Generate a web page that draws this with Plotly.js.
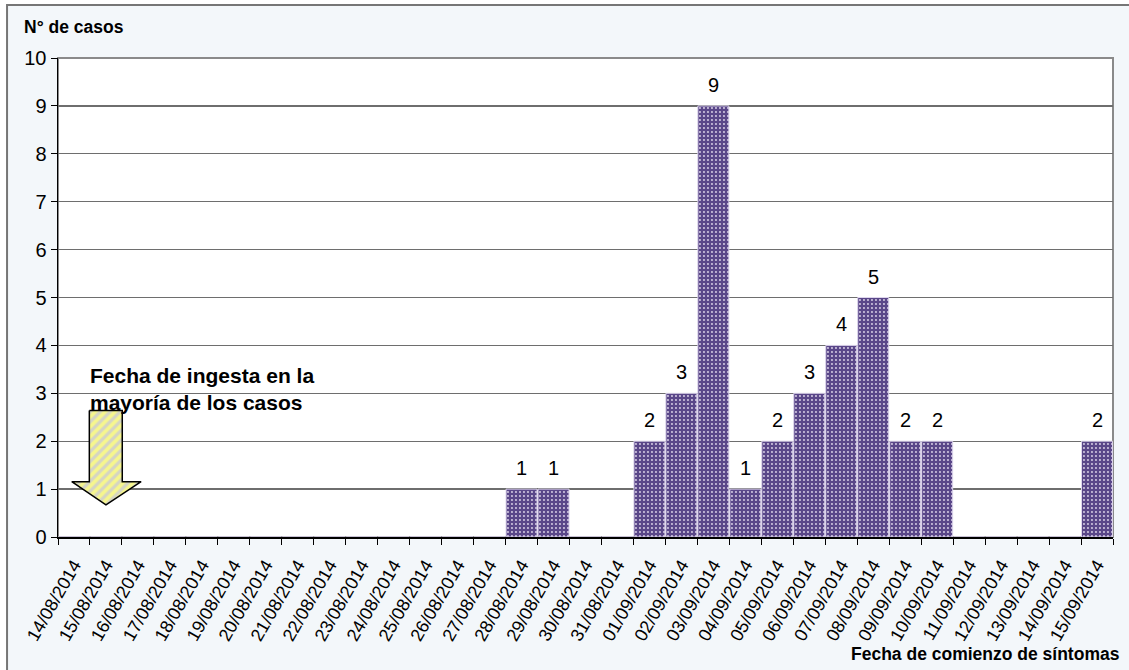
<!DOCTYPE html>
<html>
<head>
<meta charset="utf-8">
<script src="https://cdn.plot.ly/plotly-3.0.1.min.js"></script>
<style>
  html, body { margin: 0; padding: 0; background: #ffffff; }
  #chart { width: 1129px; height: 670px; }
</style>
</head>
<body>
<div id="chart"></div>
<script>
// Fechas de comienzo de síntomas (eje de categorías)
const fechas = [
  '14/08/2014','15/08/2014','16/08/2014','17/08/2014','18/08/2014','19/08/2014',
  '20/08/2014','21/08/2014','22/08/2014','23/08/2014','24/08/2014','25/08/2014',
  '26/08/2014','27/08/2014','28/08/2014','29/08/2014','30/08/2014','31/08/2014',
  '01/09/2014','02/09/2014','03/09/2014','04/09/2014','05/09/2014','06/09/2014',
  '07/09/2014','08/09/2014','09/09/2014','10/09/2014','11/09/2014','12/09/2014',
  '13/09/2014','14/09/2014','15/09/2014'
];

// Número de casos por fecha
const casos = [
  0,0,0,0,0,0,
  0,0,0,0,0,0,
  0,0,1,1,0,0,
  2,3,9,1,2,3,
  4,5,2,2,0,0,
  0,0,2
];

const yTicks = [0,1,2,3,4,5,6,7,8,9,10];

// Flecha que señala la fecha de ingesta (en unidades de categoría / casos)
const flechaX = [0.48, 1.51, 1.51, 2.10, 1.00, -0.07, 0.48, 0.48];
const flechaY = [2.64, 2.64, 1.155, 1.155, 0.67, 1.155, 1.155, 2.64];

const FONT = 'Liberation Sans, Arial, sans-serif';

const barras = {
  type: 'bar',
  x: fechas,
  y: casos,
  marker: {
    color: '#5a4789',
    line: { color: '#ddd5ec', width: 1 },
    pattern: { shape: '.', fgcolor: '#ddd5ea', bgcolor: '#5a4789', size: 4, solidity: 0.18, fillmode: 'replace' }
  },
  hoverinfo: 'x+y',
  showlegend: false
};

const flecha = {
  type: 'scatter',
  mode: 'lines',
  x: flechaX,
  y: flechaY,
  xaxis: 'x2',
  yaxis: 'y',
  fill: 'toself',
  fillcolor: '#f6f68e',
  fillpattern: { shape: '/', bgcolor: '#f6f68e', fgcolor: '#d4d4c4', size: 7, solidity: 0.45 },
  line: { color: '#000000', width: 1.5 },
  hoverinfo: 'skip',
  showlegend: false
};

// Etiquetas de valor encima de cada barra con casos
const etiquetas = [];
fechas.forEach((f, i) => {
  if (casos[i] > 0) {
    etiquetas.push({
      x: f, y: casos[i], xref: 'x', yref: 'y',
      text: String(casos[i]), showarrow: false,
      yanchor: 'bottom', yshift: 8,
      font: { family: FONT, size: 20, color: '#000000' }
    });
  }
});

const layout = {
  width: 1129,
  height: 670,
  margin: { l: 58, r: 16, t: 58, b: 133, pad: 0 },
  paper_bgcolor: '#ffffff',
  plot_bgcolor: '#ffffff',
  bargap: 0.03,
  xaxis: {
    type: 'category',
    categoryorder: 'array',
    categoryarray: fechas,
    tickson: 'boundaries',
    ticks: 'outside',
    ticklen: 6,
    tickwidth: 1,
    tickcolor: '#000000',
    tickangle: -60,
    ticklabelstandoff: 9,
    tickfont: { family: FONT, size: 18, color: '#000000' },
    showline: true,
    linecolor: '#000000',
    linewidth: 1.5,
    showgrid: false,
    zeroline: false,
    fixedrange: true
  },
  xaxis2: {
    overlaying: 'x',
    range: [-0.5, 32.5],
    visible: false,
    fixedrange: true
  },
  yaxis: {
    range: [0, 10],
    tickvals: yTicks,
    ticks: 'outside',
    ticklen: 6,
    tickwidth: 1,
    tickcolor: '#000000',
    tickfont: { family: FONT, size: 20, color: '#000000' },
    showline: true,
    linecolor: '#000000',
    linewidth: 1.5,
    showgrid: true,
    gridcolor: '#6e6e6e',
    gridwidth: 1.3,
    zeroline: false,
    fixedrange: true
  },
  shapes: [
    // marco exterior del gráfico
    {
      type: 'rect', xref: 'paper', yref: 'paper', layer: 'below',
      x0: -0.0483, x1: 1.1, y0: -0.4, y1: 1.1106,
      fillcolor: '#f3f7fa', line: { color: '#767676', width: 2 }
    },
    // área de trazado
    {
      type: 'rect', xref: 'paper', yref: 'paper', layer: 'below',
      x0: 0, x1: 1, y0: 0, y1: 1,
      fillcolor: '#ffffff', line: { color: '#8a8a8a', width: 2 }
    }
  ],
  annotations: etiquetas.concat([
    {
      text: '<b>N° de casos</b>', xref: 'paper', yref: 'paper',
      x: -0.0341, y: 1.0637, xanchor: 'left', yanchor: 'middle',
      showarrow: false, font: { family: FONT, size: 17.5, color: '#000000' }
    },
    {
      text: '<b>Fecha de comienzo de síntomas</b>', xref: 'paper', yref: 'paper',
      x: 1.0085, y: -0.244, xanchor: 'right', yanchor: 'middle',
      showarrow: false, font: { family: FONT, size: 17.5, color: '#000000' }
    },
    {
      text: '<b>Fecha de ingesta en la<br>mayoría de los casos</b>', xref: 'paper', yref: 'paper',
      x: 0.0284, y: 0.309, xanchor: 'left', yanchor: 'middle', align: 'left',
      showarrow: false, font: { family: FONT, size: 21, color: '#000000' }
    }
  ])
};

Plotly.newPlot('chart', [barras, flecha], layout, { displayModeBar: false, staticPlot: true });
</script>
</body>
</html>
